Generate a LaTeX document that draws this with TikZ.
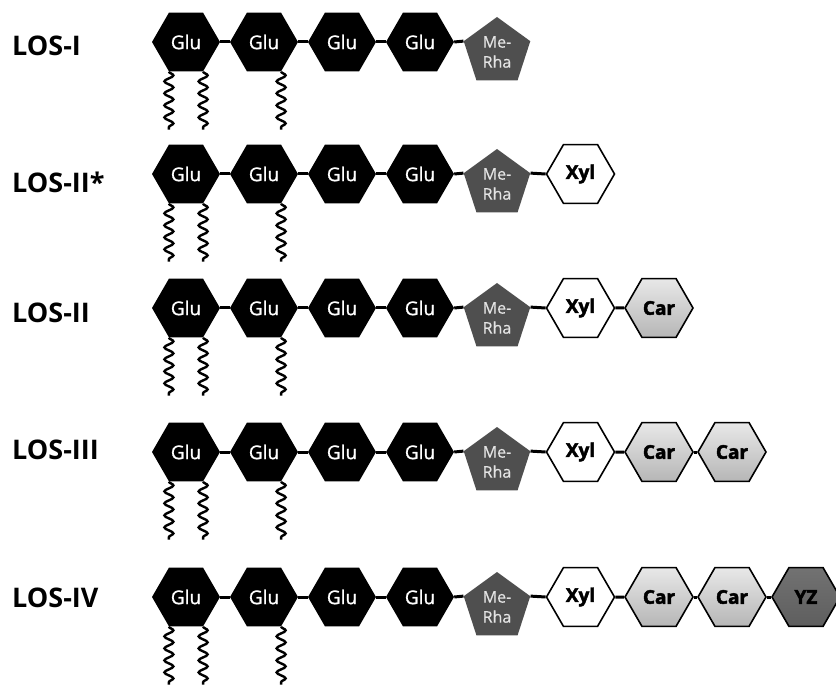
\documentclass[tikz,border=0pt]{standalone}
\usepackage{fontspec}
\setmainfont{Open Sans}
\usetikzlibrary{shapes.geometric,decorations.pathmorphing}

\definecolor{rhagray}{HTML}{4F4F4F}
\definecolor{rhatext}{HTML}{E4E4E4}
\definecolor{cartop}{HTML}{E8E8E8}
\definecolor{carbot}{HTML}{B6B6B6}
\definecolor{yztop}{HTML}{727272}
\definecolor{yzbot}{HTML}{5E5E5E}

\begin{document}
\begin{tikzpicture}[x=1pt,y=-1pt,
  hexa/.style={regular polygon,regular polygon sides=6,minimum size=68pt,inner sep=0pt},
  glu/.style={hexa,fill=black,text=white,font=\fontsize{19}{19}\selectfont\addfontfeature{FakeBold=1}},
  tail/.style={hexa,draw=black,line width=1.6pt,font=\fontsize{19}{19}\selectfont\bfseries\addfontfeature{FakeBold=2.5}},
  xyl/.style={tail,fill=white},
  car/.style={tail,top color=cartop,bottom color=carbot},
  yz/.style={tail,top color=yztop,bottom color=yzbot},
  rha/.style={regular polygon,regular polygon sides=5,minimum size=70pt,inner sep=0pt,fill=rhagray,text=rhatext,align=center,font=\fontsize{16}{20}\selectfont\addfontfeature{FakeBold=0.5}},
  link/.style={line width=3pt},
  lipid/.style={line width=2.4pt,decorate,decoration={snake,segment length=12pt,amplitude=4.5pt}},
  los/.style={anchor=west,inner sep=0pt,font=\fontsize{27}{27}\selectfont\bfseries}]
\useasboundingbox (0,0) rectangle (836,687);

% the common part of every LOS
\foreach \r/\y/\ly/\name in {1/42/46/LOS-I,2/174/182/LOS-II*,3/308/313/LOS-II,4/452/450/LOS-III,5/597/598/LOS-IV}{
  \node[los] (los\r) at (12,\ly) {\name};
  \foreach \i/\x in {1/186,2/264,3/342,4/420}
    \node[glu] (g\r-\i) at (\x,\y) {Glu};
  \node[rha] (m\r) at (497,\y+10) {Me-\\Rha};
  \draw[link] (g\r-1.east) -- (g\r-2.west);
  \draw[link] (g\r-2.east) -- (g\r-3.west);
  \draw[link] (g\r-3.east) -- (g\r-4.west);
  \draw[link] (g\r-4.east) -- (m\r.corner 2);
  \draw[lipid] (g\r-1.-120) -- ++(0,58);
  \draw[lipid] (g\r-1.-60) -- ++(0,58);
  \draw[lipid] (g\r-2.-60) -- ++(0,58);
}

% LOS-II*
\node[xyl] (x2) at (580.5,174) {Xyl};
\draw[link] (m2.corner 5) -- (x2.west);

% LOS-II
\node[xyl] (x3) at (580.5,308) {Xyl};
\node[car] (c3-1) at (659,308) {Car};
\draw[link] (m3.corner 5) -- (x3.west);
\draw[link] (x3.east) -- (c3-1.west);

% LOS-III
\node[xyl] (x4) at (580.5,452) {Xyl};
\node[car] (c4-1) at (659,452) {Car};
\node[car] (c4-2) at (732,452) {Car};
\draw[link] (m4.corner 5) -- (x4.west);
\draw[link] (x4.east) -- (c4-1.west);
\draw[link] (c4-1.east) -- (c4-2.west);

% LOS-IV
\node[xyl] (x5) at (580.5,597) {Xyl};
\node[car] (c5-1) at (659,597) {Car};
\node[car] (c5-2) at (732,597) {Car};
\node[yz] (yz5) at (806,597) {YZ};
\draw[link] (m5.corner 5) -- (x5.west);
\draw[link] (x5.east) -- (c5-1.west);
\draw[link] (c5-1.east) -- (c5-2.west);
\draw[link] (c5-2.east) -- (yz5.west);
\end{tikzpicture}
\end{document}
